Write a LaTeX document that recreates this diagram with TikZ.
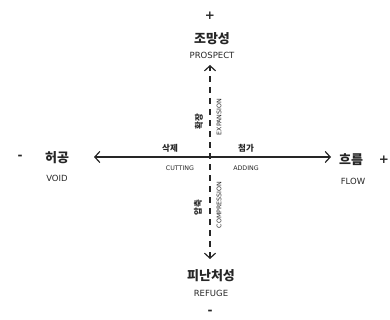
\documentclass[tikz,border=0pt]{standalone}
\usepackage{fontspec}
\setmainfont{DejaVu Sans}
\newfontfamily\kr{Noto Sans CJK KR}
\usetikzlibrary{arrows.meta}
\tikzset{
  kor/.style={font=\kr\bfseries\fontsize{13}{13}\selectfont, inner sep=0pt, text=black!85},
  eng/.style={font=\fontsize{8.5}{8.5}\selectfont, inner sep=0pt, text=black!85},
  small/.style={font=\kr\bfseries\fontsize{8.5}{8.5}\selectfont, inner sep=0pt, text=black!85},
  tiny/.style={font=\fontsize{6.3}{6.3}\selectfont, inner sep=0pt, text=black!85},
  sign/.style={font=\fontsize{12}{12}\selectfont\bfseries, inner sep=0pt, text=black!85},
  axis/.style={line width=1.2pt, black!85, {Straight Barb[length=5pt,width=11pt,line width=1.2pt]}-{Straight Barb[length=5pt,width=11pt,line width=1.2pt]}},
  daxis/.style={axis, dash pattern=on 6pt off 5pt}
}
\begin{document}
\begin{tikzpicture}[x=1pt,y=-1pt]
\useasboundingbox (0,0) rectangle (390,320);
% top
\node[sign] (plustop) at (210,16) {+};
\node[kor] (prospectk) at (212,39) {조망성};
\node[eng] (prospect) at (212,55) {PROSPECT};
% bottom
\node[kor] (refugek) at (211,276) {피난처성};
\node[eng] (refuge) at (211,293) {REFUGE};
\node[sign] (minusbot) at (210,312) {-};
% left
\node[sign] (minusleft) at (20,157) {-};
\node[kor] (voidk) at (57,158) {허공};
\node[eng] (void) at (57,178) {VOID};
% right
\node[kor] (flowk) at (351,160) {흐름};
\node[eng] (flow) at (353,181) {FLOW};
\node[sign] (plusright) at (384,160) {+};
% axes
\coordinate (top) at (210,65);
\coordinate (bot) at (210,259);
\coordinate (left) at (94,157);
\coordinate (right) at (331,157);
\draw[axis] (left) -- (right);
\draw[daxis] (bot) -- (top);
% axis labels
\node[small] (cutk) at (170,148) {삭제};
\node[small] (addk) at (246,148) {첨가};
\node[tiny] (cut) at (180,168) {CUTTING};
\node[tiny] (add) at (246,168) {ADDING};
\node[small, rotate=90] (expk) at (199,122) {확장};
\node[tiny, rotate=90] (exp) at (219,117) {EXPANSION};
\node[small, rotate=90] (compk) at (198,208) {압축};
\node[tiny, rotate=90] (comp) at (219,205) {COMPRESSION};
\end{tikzpicture}
\end{document}
